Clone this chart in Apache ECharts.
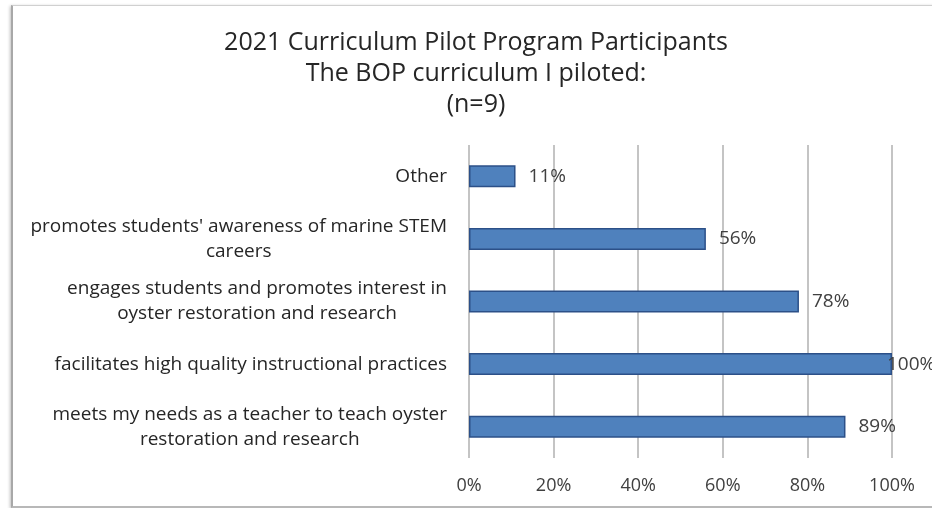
<!DOCTYPE html>
<html>
<head>
<meta charset="utf-8">
<script src="https://cdn.jsdelivr.net/npm/echarts@6/dist/echarts.min.js"></script>
<style>
  html, body { margin: 0; padding: 0; background: #ffffff; }
  .frame {
    position: absolute; left: 11px; top: 5px; width: 940px; height: 500px;
    border: 1px solid #d0d0d0; border-left: 2px solid #a8a8a8; border-bottom: 2px solid #b8b8b8;
    box-shadow: -1px 1px 3px rgba(0,0,0,0.25);
  }
  #chart { position: absolute; left: 0; top: 0; width: 932px; height: 508px; }
</style>
</head>
<body>
<div class="frame"></div>
<div id="chart"></div>
<script>
// 横向柱状图：2021 课程试点参与者
const titleLines = ['2021 Curriculum Pilot Program Participants', 'The BOP curriculum I piloted:', '(n=9)']
// 从上到下的类别，\n 是换行
const categories = [
  'Other',
  "promotes students' awareness of marine STEM\ncareers",
  'engages students and promotes interest in\noyster restoration and research',
  'facilitates high quality instructional practices',
  'meets my needs as a teacher to teach oyster\nrestoration and research'
]
const percentValues = [11, 56, 78, 100, 89]
const tickLabels = ['0%', '20%', '40%', '60%', '80%', '100%']

const FONT = 'Open Sans'
const chartInstance = echarts.init(document.getElementById('chart'))

const option = {
  backgroundColor: 'transparent',
  title: {
    text: titleLines.join('\n'),
    // 标题中心大约在 x=476
    left: 476,
    textAlign: 'center',
    top: 27,
    padding: 0,
    textStyle: {
      fontFamily: FONT,
      fontSize: 25,
      fontWeight: 'normal',
      color: '#262626',
      lineHeight: 31
    }
  },
  grid: {
    left: 469,
    right: 40,
    top: 145,
    bottom: 50
  },
  xAxis: {
    type: 'value',
    min: 0,
    max: 100,
    interval: 20,
    axisLine: { show: false },
    axisTick: { show: false },
    splitLine: { lineStyle: { color: '#c4c4c4', width: 2 } },
    axisLabel: {
      margin: 19,
      fontFamily: FONT,
      fontSize: 18,
      color: '#404040',
      formatter: (v) => tickLabels[v / 20]
    }
  },
  yAxis: {
    type: 'category',
    inverse: true,
    data: categories,
    axisLine: { show: false },
    axisTick: { show: false },
    axisLabel: {
      margin: 22,
      formatter: (v) => v.split('\n').map((s) => '{c|' + s + '}').join('\n'),
      rich: {
        c: {
          align: 'center',
          fontFamily: FONT,
          fontSize: 19,
          lineHeight: 25,
          color: '#262626'
        }
      }
    }
  },
  series: [
    {
      type: 'bar',
      barWidth: 22,
      data: percentValues.map((v) => {
        // 100% 的标签在 Excel 中向左挪进图里
        return v === 100 ? { value: v, label: { offset: [-18, 0] } } : v
      }),
      itemStyle: {
        color: '#4f81bd',
        borderColor: '#2c5088',
        borderWidth: 1.5
      },
      label: {
        show: true,
        position: 'right',
        distance: 13,
        fontFamily: FONT,
        fontSize: 19,
        color: '#404040',
        formatter: '{c}%'
      }
    }
  ]
}
chartInstance.setOption(option)
</script>
</body>
</html>
